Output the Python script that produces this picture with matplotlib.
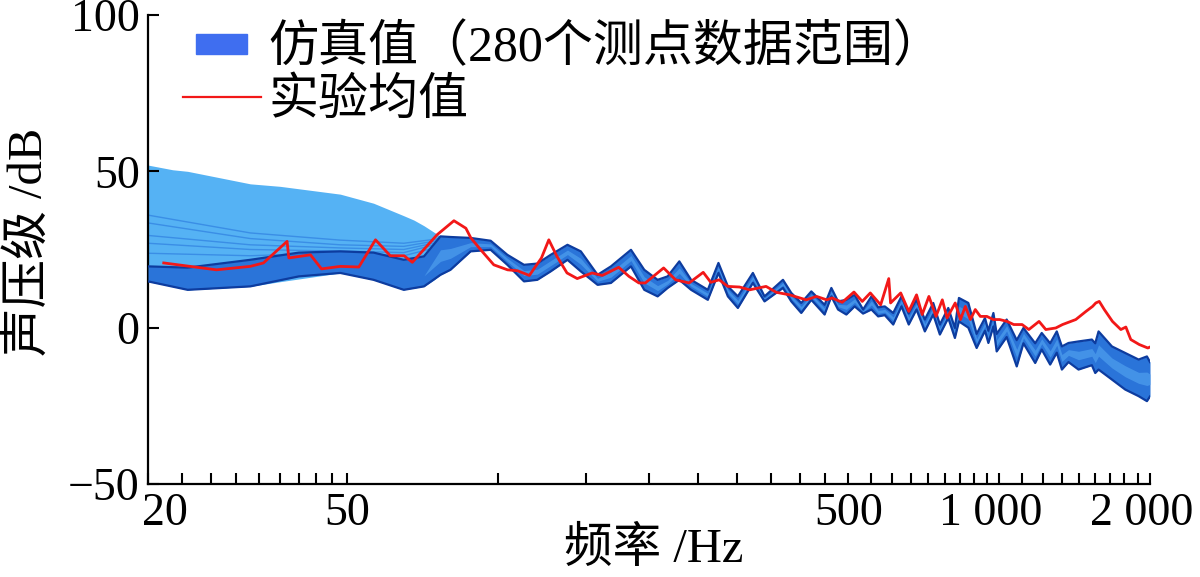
import numpy as np
import matplotlib
matplotlib.use('Agg')
import matplotlib.pyplot as plt
import matplotlib.patches as mpatches
import matplotlib.transforms as mtransforms
from matplotlib.lines import Line2D
from matplotlib.legend_handler import HandlerPatch
from matplotlib.ticker import FixedLocator, FixedFormatter, NullFormatter

plt.rcParams['font.family'] = ['Liberation Serif', 'Noto Sans CJK SC']
plt.rcParams['axes.unicode_minus'] = True

# ---------------- data ----------------
# outer (light) envelope of simulation at low frequency
low_freq = [20, 22.4, 24, 32, 36.7, 48.4, 56.4, 64.8, 67.9, 71.1, 74.5, 76.7, 80.3, 88.1]
low_upper = [52, 50.5, 50, 46, 45.2, 42.7, 39.8, 35.8, 34.4, 32.6, 30.5, 29.2, 29.0, 28.7]
low_lower = [14.7, 13.2, 12.1, 13.2, 14.7, 17.5, 15.3, 12.1, 14.7, 13.2, 15.3, 16.9, 18.5, 24.4]

# individual measurement-point curves visible inside the light envelope
inner_freq = [20, 32, 48.4, 64.8, 76.7]
inner_a = [36.0, 30.3, 28.0, 27.0, 28.5]
inner_b = [33.5, 28.5, 26.5, 26.0, 28.0]
inner_c = [29.5, 26.5, 25.5, 25.0, 27.5]
inner_d = [27.0, 25.0, 24.5, 24.0, 27.0]
inner_e = [23.8, 23.0, 24.0, 23.0, 26.0]

# dense core band of the simulated range
band_freq = [20, 24, 32, 40, 48.4, 56.4, 64.8, 71.1, 76.7, 80.3,
             88.1, 96.6, 104.3, 112.6, 119.7, 127.3, 137.5, 146.2, 157.9, 167.9,
             184.1, 195.7, 208.1, 217.9, 229.9, 242.7, 262.1, 275.2, 287.4, 300.9,
             322.4, 340.1, 370.2, 384.6, 402.7, 421.7, 448.3, 462.4, 476.8, 495.4,
             514.6, 535.0, 555.9, 573.4, 591.1, 614.5, 638.2, 659.9, 683.9, 710.6,
             738.6, 761.4, 791.4, 815.9, 831.1, 867.8, 901.6, 936.8, 951.6, 973.8,
             988.6, 1035, 1084, 1118, 1180, 1216, 1264, 1303, 1334, 1375,
             1440, 1531, 1555, 1579, 1679, 1785, 1898, 1972, 2000]
band_upper = [19.6, 19.2, 21.7, 24.0, 24.4, 24.0, 21.7, 22.8, 29.2, 29.0,
              28.7, 27.8, 23.3, 20.1, 20.5, 23.3, 26.5, 24.4, 16.9, 19.6,
              24.9, 18.5, 15.3, 16.4, 21.2, 15.3, 12.1, 20.7, 13.2, 10.0,
              17.5, 10.0, 15.3, 11.1, 7.9, 11.6, 7.3, 12.7, 8.4, 8.9,
              10.5, 5.8, 10.0, 6.5, 6.8, 4.7, 10.0, 4.5, 8.9, 2.6,
              7.9, 1.0, 6.3, -0.1, 9.5, 7.9, -2.0, 3.1, -1.0, 4.7,
              -2.0, 2.6, -4.0, -0.1, -5.0, -1.7, -5.0, -1.2, -6.0, -4.9,
              -4.4, -3.8, -5.0, -1.2, -6.0, -8.1, -10.2, -9.2, -11.0]
band_lower = [14.8, 12.1, 13.2, 16.4, 17.5, 15.3, 12.1, 13.2, 16.9, 18.5,
              24.4, 24.9, 20.1, 14.8, 15.3, 18.0, 21.7, 18.0, 13.7, 14.3,
              19.6, 12.1, 10.0, 12.7, 15.3, 12.1, 8.9, 17.5, 10.0, 6.3,
              14.3, 8.4, 12.7, 8.4, 4.7, 8.9, 4.2, 10.0, 5.8, 4.2,
              6.8, 4.5, 5.8, 3.6, 4.0, 1.0, 6.8, 1.0, 5.8, -1.2,
              4.2, -2.2, 3.1, -3.3, 2.0, 0.0, -6.5, -1.0, -4.9, 0.4,
              -7.6, -3.0, -12.4, -5.0, -11.3, -7.0, -11.8, -8.0, -13.4, -11.0,
              -13.4, -12.0, -14.5, -13.4, -16.6, -19.8, -21.9, -23.5, -22.0]

# experimental mean
exp_freq = [21.5, 27.4, 32.0, 34.0, 37.9, 38.2, 42.2, 44.4, 48.4, 52.7,
            56.9, 60.9, 64.9, 67.4, 75.5, 81.6, 86.2, 88.2, 92.3, 98.0,
            104.4, 109.3, 115.4, 122, 126.2, 131, 137.2, 143.8, 154, 161.3,
            174, 182.4, 190.9, 196.6, 213.9, 226, 240.5, 256.6, 265.7, 276.2,
            287.2, 303.2, 317.6, 342.5, 359, 381.6, 412, 431.9, 452.7, 464,
            486, 513, 533, 553, 580, 602, 607, 636, 660, 684,
            702, 724, 748, 770, 787, 817, 837, 856, 876, 896,
            917, 945, 973, 1002, 1037, 1069, 1111, 1146, 1201, 1239,
            1297, 1338, 1422, 1490, 1536, 1559, 1584, 1621, 1683, 1749,
            1790, 1831, 1904, 1980, 2000]
exp_db = [20.7, 18.5, 19.6, 20.7, 27.6, 22.3, 23.3, 18.8, 19.6, 19.4,
          28.1, 23.0, 23.0, 20.9, 29.7, 34.2, 31.8, 28.7, 24.9, 20.1,
          18.5, 18.2, 16.7, 22.3, 28.1, 22.8, 17.5, 15.7, 17.5, 16.7,
          19.3, 16.4, 14.3, 14.3, 19.1, 15.3, 14.3, 17.7, 14.5, 15.3,
          13.2, 13.0, 12.1, 13.2, 11.3, 10.5, 8.9, 10.0, 8.9, 9.5,
          8.1, 11.4, 8.4, 11.1, 7.3, 15.7, 7.9, 11.1, 5.2, 10.5,
          4.2, 10.0, 3.6, 8.9, 3.1, 7.9, 2.6, 6.8, 2.6, 5.8,
          3.6, 3.6, 2.6, 2.6, 2.0, 1.0, 1.0, -0.6, 2.0, -0.6,
          -0.1, 1.0, 2.6, 5.2, 6.8, 7.9, 8.4, 5.8, 2.0, -0.6,
          0.2, -3.8, -5.4, -6.5, -6.2]

x_major = [20, 50, 500, 1000, 2000]
x_labels = ['20', '50', '500', '1 000', '2 000']
y_ticks = [-50, 0, 50, 100]
y_labels = ['\u221250', '0', '50', '100']

label_sim = '仿真值（280个测点数据范围）'
label_exp = '实验均值'

# ---------------- figure ----------------
fig = plt.figure(figsize=(12, 5.77), dpi=100)
ax = fig.add_axes([148 / 1200, 1 - 484 / 577, 1002 / 1200, 469 / 577])

ax.fill_between(low_freq, low_lower, low_upper, color='#55b2f4', lw=0, zorder=1)
for line in (inner_a, inner_b, inner_c, inner_d, inner_e):
    ax.plot(inner_freq, line, color='#3a8ee6', lw=1.0, zorder=2)

bf = np.array(band_freq)
bu = np.array(band_upper)
bl = np.array(band_lower)
ax.fill_between(bf, bl, bu, color='#2a74d9', lw=0, zorder=3)
ax.fill_between(bf, bl + 0.35 * (bu - bl), bl + 0.65 * (bu - bl),
                where=bf >= 76, interpolate=True,
                color='#4f9fee', lw=0, zorder=4, alpha=0.7)
ax.plot(bf, bu, color='#0d3c9f', lw=1.6, zorder=5)
ax.plot(bf, bl, color='#0d3c9f', lw=1.6, zorder=5)

ax.plot(exp_freq, exp_db, color='#f21818', lw=2.0, zorder=6)

ax.set_xscale('log')
ax.set_xlim(20, 2000)
ax.set_ylim(-50, 100)

minors = []
for a, b in zip(x_major[:-1], x_major[1:]):
    minors.extend(np.linspace(a, b, 10)[1:-1])
ax.xaxis.set_major_locator(FixedLocator(x_major))
ax.xaxis.set_major_formatter(FixedFormatter(x_labels))
ax.xaxis.set_minor_locator(FixedLocator(minors))
ax.xaxis.set_minor_formatter(NullFormatter())
ax.set_yticks(y_ticks)
ax.set_yticklabels(y_labels)

for s in ('top', 'right'):
    ax.spines[s].set_visible(False)
for s in ('left', 'bottom'):
    ax.spines[s].set_linewidth(1.6)

ax.tick_params(axis='both', which='both', direction='in', length=8, width=1.5,
               labelsize=33)
ax.tick_params(axis='x', which='major', pad=6)
ax.tick_params(axis='y', which='major', pad=6)

# label offsets to match the reference layout
xt = ax.get_xticklabels()
xt[0].set_transform(xt[0].get_transform() + mtransforms.ScaledTranslation(17 / 100, 0, fig.dpi_scale_trans))
for i in (3, 4):
    xt[i].set_transform(xt[i].get_transform() + mtransforms.ScaledTranslation(-8 / 100, 0, fig.dpi_scale_trans))

ax.set_xlabel('频率 /Hz', fontsize=35, va='center')
ax.xaxis.set_label_coords(0.505, (484 - 549) / 469)
ax.set_ylabel('声压级 /dB', fontsize=35, va='center')
ax.yaxis.set_label_coords((29 - 148) / 1002, (484 - 242) / 469)


def small_patch(legend, orig_handle, xdescent, ydescent, width, height, fontsize):
    w = width * 0.66
    h = height * 0.55
    return mpatches.Rectangle((-xdescent + (width - w) / 2, -ydescent + (height - h) / 2), w, h)


h_sim = mpatches.Patch(color='#3f6ef0')
h_exp = Line2D([], [], color='#f21818', lw=1.6)
leg = ax.legend([h_sim, h_exp], [label_sim, label_exp], loc='upper left',
                bbox_to_anchor=(35 / 1002, 1 - 10 / 469), frameon=False, fontsize=36,
                handlelength=1.55, handletextpad=0.15, labelspacing=0.12,
                borderpad=0, borderaxespad=0,
                handler_map={mpatches.Patch: HandlerPatch(patch_func=small_patch)})

fig.savefig('out.png', dpi=100)
